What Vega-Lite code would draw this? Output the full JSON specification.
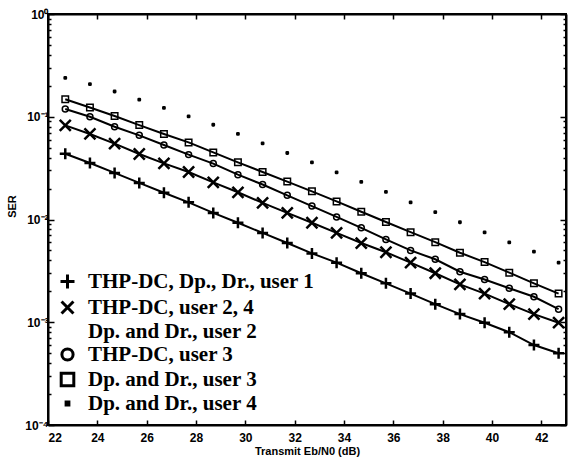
{
  "$schema": "https://vega.github.io/schema/vega-lite/v6.json",
  "width": 518,
  "height": 411,
  "autosize": "none",
  "padding": {"left": 48, "top": 14, "right": 2, "bottom": 33},
  "background": "white",
  "config": {
    "view": {"stroke": "black", "strokeWidth": 2},
    "axis": {
      "domainColor": "black", "domainWidth": 2, "tickColor": "black", "tickWidth": 1.5,
      "labelFont": "Liberation Sans", "labelFontWeight": "bold", "labelFontSize": 12, "labelColor": "black",
      "titleFont": "Liberation Sans", "titleFontWeight": "bold", "titleFontSize": 11, "titleColor": "black",
      "grid": false, "labelOverlap": false
    },
    "legend": {
      "orient": "none", "legendX": 9, "legendY": 257, "title": null, "padding": 0,
      "symbolSize": 196, "symbolStrokeWidth": 3, "symbolStrokeColor": "black", "symbolOpacity": 1, "symbolFillColor": "transparent",
      "labelFont": "Liberation Serif", "labelFontSize": 21, "labelFontWeight": "bold", "labelColor": "black",
      "labelOffset": 10, "labelLimit": 400, "rowPadding": 0
    }
  },
  "data": {"values": [
    {"x": 22.7, "u1": 0.0437, "u24": 0.0824, "u3": 0.119, "d3": 0.148, "d4": 0.239},
    {"x": 23.7, "u1": 0.0355, "u24": 0.068, "u3": 0.100, "d3": 0.123, "d4": 0.208},
    {"x": 24.7, "u1": 0.0284, "u24": 0.0547, "u3": 0.080, "d3": 0.1016, "d4": 0.176},
    {"x": 25.7, "u1": 0.0227, "u24": 0.0434, "u3": 0.0659, "d3": 0.083, "d4": 0.147},
    {"x": 26.7, "u1": 0.0182, "u24": 0.0352, "u3": 0.0531, "d3": 0.068, "d4": 0.122},
    {"x": 27.7, "u1": 0.0147, "u24": 0.029, "u3": 0.0428, "d3": 0.0563, "d4": 0.1007},
    {"x": 28.7, "u1": 0.0116, "u24": 0.023, "u3": 0.035, "d3": 0.045, "d4": 0.0836},
    {"x": 29.7, "u1": 0.0093, "u24": 0.0184, "u3": 0.0273, "d3": 0.036, "d4": 0.068},
    {"x": 30.7, "u1": 0.0074, "u24": 0.0145, "u3": 0.0219, "d3": 0.029, "d4": 0.055},
    {"x": 31.7, "u1": 0.0059, "u24": 0.0116, "u3": 0.0172, "d3": 0.0234, "d4": 0.0444},
    {"x": 32.7, "u1": 0.00468, "u24": 0.0093, "u3": 0.0135, "d3": 0.0188, "d4": 0.036},
    {"x": 33.7, "u1": 0.0038, "u24": 0.0074, "u3": 0.0106, "d3": 0.015, "d4": 0.0288},
    {"x": 34.7, "u1": 0.003, "u24": 0.0059, "u3": 0.0083, "d3": 0.0119, "d4": 0.0232},
    {"x": 35.7, "u1": 0.00239, "u24": 0.0048, "u3": 0.0064, "d3": 0.00946, "d4": 0.0186},
    {"x": 36.7, "u1": 0.0019, "u24": 0.0038, "u3": 0.005, "d3": 0.00753, "d4": 0.0147},
    {"x": 37.7, "u1": 0.0015, "u24": 0.003, "u3": 0.0041, "d3": 0.00602, "d4": 0.0118},
    {"x": 38.7, "u1": 0.0012, "u24": 0.00234, "u3": 0.0031, "d3": 0.00475, "d4": 0.0094},
    {"x": 39.7, "u1": 0.00099, "u24": 0.0019, "u3": 0.00261, "d3": 0.00385, "d4": 0.0075},
    {"x": 40.7, "u1": 0.0008, "u24": 0.0015, "u3": 0.00214, "d3": 0.00304, "d4": 0.006},
    {"x": 41.7, "u1": 0.0006, "u24": 0.0012, "u3": 0.00177, "d3": 0.00239, "d4": 0.00486},
    {"x": 42.7, "u1": 0.0005, "u24": 0.00099, "u3": 0.00134, "d3": 0.0019, "d4": 0.0038}
  ]},
  "transform": [{"fold": ["u1", "u24", "u3", "d3", "d4"], "as": ["s", "v"]}],
  "layer": [
    {
      "transform": [{"filter": "datum.s !== 'd4'"}],
      "mark": {"type": "line", "color": "black", "strokeWidth": 2},
      "encoding": {
        "x": {"field": "x", "type": "quantitative",
          "scale": {"domain": [22, 43], "nice": false, "zero": false},
          "axis": {"orient": "bottom", "title": "Transmit Eb/N0 (dB)", "values": [22, 24, 26, 28, 30, 32, 34, 36, 38, 40, 42], "tickSize": -5, "labelPadding": 12, "titlePadding": 2}},
        "y": {"field": "v", "type": "quantitative",
          "scale": {"type": "log", "domain": [0.0001, 1], "nice": false},
          "axis": {"orient": "left", "title": "SER", "titleY": 192,
            "values": [0.0001, 0.0002, 0.0003, 0.0004, 0.0005, 0.0006, 0.0007, 0.0008, 0.0009, 0.001, 0.002, 0.003, 0.004, 0.005, 0.006, 0.007, 0.008, 0.009, 0.01, 0.02, 0.03, 0.04, 0.05, 0.06, 0.07, 0.08, 0.09, 0.1, 0.2, 0.3, 0.4, 0.5, 0.6, 0.7, 0.8, 0.9, 1],
            "labelExpr": "datum.value == 1 ? '10⁰' : datum.value == 0.1 ? '10⁻¹' : datum.value == 0.01 ? '10⁻²' : datum.value == 0.001 ? '10⁻³' : datum.value == 0.0001 ? '10⁻⁴' : ''",
            "tickSize": {"condition": {"test": "abs(log(datum.value)/LN10 - round(log(datum.value)/LN10)) < 0.000001", "value": -6}, "value": -3},
            "labelPadding": 6, "titlePadding": 7}},
        "detail": {"field": "s"}
      }
    },
    {
      "transform": [{"filter": "datum.s === 'u1'"}],
      "mark": {"type": "point", "filled": false, "color": "black", "opacity": 1, "size": 121, "strokeWidth": 2.5},
      "encoding": {
        "x": {"field": "x", "type": "quantitative",
          "axis": {"orient": "top", "title": null, "labels": false, "values": [22, 24, 26, 28, 30, 32, 34, 36, 38, 40, 42], "tickSize": -5}},
        "y": {"field": "v", "type": "quantitative",
          "axis": {"orient": "right", "title": null, "labels": false,
            "values": [0.0001, 0.0002, 0.0003, 0.0004, 0.0005, 0.0006, 0.0007, 0.0008, 0.0009, 0.001, 0.002, 0.003, 0.004, 0.005, 0.006, 0.007, 0.008, 0.009, 0.01, 0.02, 0.03, 0.04, 0.05, 0.06, 0.07, 0.08, 0.09, 0.1, 0.2, 0.3, 0.4, 0.5, 0.6, 0.7, 0.8, 0.9, 1],
            "tickSize": {"condition": {"test": "abs(log(datum.value)/LN10 - round(log(datum.value)/LN10)) < 0.000001", "value": -6}, "value": -3}}},
        "shape": {"field": "s", "type": "nominal",
          "scale": {"domain": ["u1", "u24", "d2", "u3", "d3", "d4"],
            "range": ["M-1,0H1M0,-1V1", "M-0.85,-0.85L0.85,0.85M-0.85,0.85L0.85,-0.85", "M0,0", "M0.8,0A0.8,0.8 0 1,1 -0.8,0A0.8,0.8 0 1,1 0.8,0Z", "M-0.9,-0.9H0.9V0.9H-0.9Z", "M-0.2,-0.2H0.2V0.2H-0.2ZM-0.1,-0.1H0.1V0.1H-0.1Z"]},
          "legend": {
            "labelExpr": "datum.value === 'u1' ? 'THP-DC, Dp., Dr., user 1' : datum.value === 'u24' ? 'THP-DC, user 2, 4' : datum.value === 'd2' ? 'Dp. and Dr., user 2' : datum.value === 'u3' ? 'THP-DC, user 3' : datum.value === 'd3' ? '\u2002Dp. and Dr., user 3' : 'Dp. and Dr., user 4'"}}
      }
    },
    {
      "transform": [{"filter": "datum.s === 'u24'"}],
      "mark": {"type": "point", "filled": false, "color": "black", "opacity": 1, "size": 169, "strokeWidth": 2.5},
      "encoding": {
        "x": {"field": "x", "type": "quantitative", "axis": null},
        "y": {"field": "v", "type": "quantitative", "axis": null},
        "shape": {"field": "s", "type": "nominal"}
      }
    },
    {
      "transform": [{"filter": "datum.s === 'u3'"}],
      "mark": {"type": "point", "filled": false, "color": "black", "opacity": 1, "size": 56, "strokeWidth": 1.5},
      "encoding": {
        "x": {"field": "x", "type": "quantitative", "axis": null},
        "y": {"field": "v", "type": "quantitative", "axis": null},
        "shape": {"field": "s", "type": "nominal"}
      }
    },
    {
      "transform": [{"filter": "datum.s === 'd3'"}],
      "mark": {"type": "point", "filled": false, "color": "black", "opacity": 1, "size": 52, "strokeWidth": 1.5},
      "encoding": {
        "x": {"field": "x", "type": "quantitative", "axis": null},
        "y": {"field": "v", "type": "quantitative", "axis": null},
        "shape": {"field": "s", "type": "nominal"}
      }
    },
    {
      "transform": [{"filter": "datum.s === 'd4'"}],
      "mark": {"type": "point", "filled": false, "color": "black", "opacity": 1, "size": 36, "strokeWidth": 2.6, "strokeJoin": "round"},
      "encoding": {
        "x": {"field": "x", "type": "quantitative", "axis": null},
        "y": {"field": "v", "type": "quantitative", "axis": null},
        "shape": {"field": "s", "type": "nominal"}
      }
    }
  ]
}
